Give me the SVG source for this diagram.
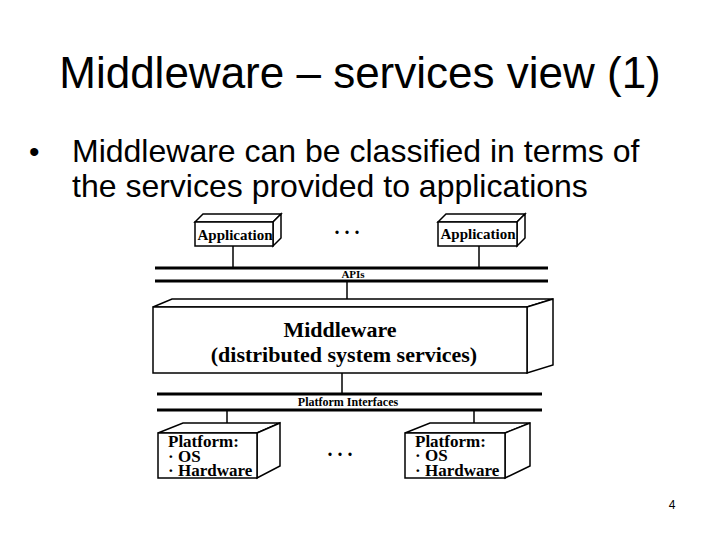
<svg xmlns="http://www.w3.org/2000/svg" width="720" height="540" viewBox="0 0 720 540">
<style>
.sans{font-family:"Liberation Sans",Arial,sans-serif;fill:#000}
.ser{font-family:"Liberation Serif","Times New Roman",serif;font-weight:bold;fill:#000}
.box{fill:#fff;stroke:#000;stroke-width:1.5}
.ln{stroke:#000;stroke-width:1.5;fill:none}
.bus{stroke:#000;stroke-width:3}
.pl{font-size:17px}
</style>
<rect width="720" height="540" fill="#fff"/>
<text class="sans" x="360" y="88" font-size="44" text-anchor="middle">Middleware – services view (1)</text>
<text class="sans" x="29" y="162" font-size="30">•</text>
<text class="sans" x="72" y="162" font-size="32">Middleware can be classified in terms of</text>
<text class="sans" x="72" y="197" font-size="32">the services provided to applications</text>
<text class="sans" x="672" y="509" font-size="12" text-anchor="middle">4</text>

<g id="connectors">
<line class="ln" x1="233" y1="246" x2="233" y2="268"/>
<line class="ln" x1="479" y1="246" x2="479" y2="268"/>
<line class="ln" x1="347" y1="281" x2="347" y2="307"/>
<line class="ln" x1="342" y1="373" x2="342" y2="394"/>
<line class="ln" x1="227" y1="410" x2="227" y2="433"/>
<line class="ln" x1="474" y1="410" x2="474" y2="433"/>
</g>

<g id="apis">
<line class="bus" x1="155" y1="268" x2="548" y2="268"/>
<line class="bus" x1="155" y1="281" x2="548" y2="281"/>
<text class="ser" x="353" y="278" font-size="11" text-anchor="middle">APIs</text>
</g>

<g id="platform-interfaces">
<line class="bus" x1="157" y1="394" x2="542" y2="394"/>
<line class="bus" x1="157" y1="410" x2="542" y2="410"/>
<text class="ser" x="348" y="406" font-size="12" text-anchor="middle">Platform Interfaces</text>
</g>

<g id="app1">
<polygon class="box" points="195,222 203,214 281,214 273,222"/>
<polygon class="box" points="273,222 281,214 281,238 273,246"/>
<rect class="box" x="195" y="222" width="78" height="24"/>
<text class="ser" x="235" y="240" font-size="15" text-anchor="middle">Application</text>
</g>

<g id="app2">
<polygon class="box" points="438,222 446,214 525,214 517,222"/>
<polygon class="box" points="517,222 525,214 525,238 517,246"/>
<rect class="box" x="438" y="222" width="79" height="24"/>
<text class="ser" x="478" y="239" font-size="15" text-anchor="middle">Application</text>
</g>

<text class="ser" x="347" y="234" font-size="20" text-anchor="middle">. . .</text>

<g id="middleware">
<polygon class="box" points="153,307 172,299 553,299 527,307"/>
<polygon class="box" points="527,307 553,299 553,365 527,373"/>
<rect class="box" x="153" y="307" width="374" height="66"/>
<text class="ser" x="340" y="337" font-size="22" text-anchor="middle">Middleware</text>
<text class="ser" x="344" y="362" font-size="22" text-anchor="middle">(distributed system services)</text>
</g>

<g id="platform1">
<polygon class="box" points="158,433 183,423 280,423 257,433"/>
<polygon class="box" points="257,433 280,423 280,466 257,478"/>
<rect class="box" x="158" y="433" width="99" height="45"/>
<text class="ser pl" x="168" y="447">Platform:</text>
<text class="ser pl" x="168" y="462">· OS</text>
<text class="ser pl" x="168" y="476">· Hardware</text>
</g>

<g id="platform2">
<polygon class="box" points="405,433 430,423 530,423 505,433"/>
<polygon class="box" points="505,433 530,423 530,466 505,478"/>
<rect class="box" x="405" y="433" width="100" height="45"/>
<text class="ser pl" x="415" y="447">Platform:</text>
<text class="ser pl" x="415" y="461">· OS</text>
<text class="ser pl" x="415" y="476">· Hardware</text>
</g>

<text class="ser" x="340" y="456" font-size="20" text-anchor="middle">. . .</text>
</svg>
